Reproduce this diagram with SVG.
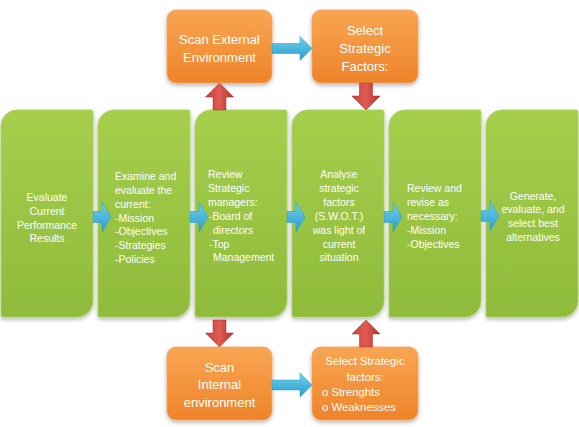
<svg xmlns="http://www.w3.org/2000/svg" xmlns:xlink="http://www.w3.org/1999/xlink" width="579" height="427" viewBox="0 0 579 427">
<style>
.gt{font-family:"Liberation Sans",Arial,sans-serif;font-size:10.5px;fill:#ffffff}
.ot{font-family:"Liberation Sans",Arial,sans-serif;font-size:13px;fill:#ffffff}
.os{font-family:"Liberation Sans",Arial,sans-serif;font-size:11.3px;fill:#ffffff}
.c{text-anchor:middle}
.gbox{fill:url(#gg);stroke:#a9d35a;stroke-width:0.8;filter:url(#sh)}
.obox{fill:url(#og);stroke:#f4a462;stroke-width:0.8;filter:url(#sh)}
.ba{fill:url(#bg);stroke:#2b9ac4;stroke-width:0.5}
.ra{fill:url(#rg);stroke:#a52a28;stroke-width:0.5}
</style>
<defs>
<linearGradient id="gg" x1="0" y1="0" x2="0" y2="1">
<stop offset="0" stop-color="#a5cf4c"/>
<stop offset="1" stop-color="#8fbb3b"/>
</linearGradient>
<linearGradient id="og" x1="0" y1="0" x2="0" y2="1">
<stop offset="0" stop-color="#f9a552"/>
<stop offset="1" stop-color="#ee8429"/>
</linearGradient>
<linearGradient id="bg" x1="0" y1="0" x2="0" y2="1">
<stop offset="0" stop-color="#6fd1ee"/>
<stop offset="1" stop-color="#2a9ccc"/>
</linearGradient>
<linearGradient id="rg" x1="0" y1="0" x2="1" y2="0">
<stop offset="0" stop-color="#c9403c"/>
<stop offset="0.5" stop-color="#e05a52"/>
<stop offset="1" stop-color="#b3312e"/>
</linearGradient>
<filter id="sh" x="-10%" y="-10%" width="120%" height="120%">
<feDropShadow dx="0" dy="2" stdDeviation="2" flood-color="#000" flood-opacity="0.3"/>
</filter>
<path id="gshape" d="M16,0 H90 A2,2 0 0 1 92,2 V191 A16,16 0 0 1 76,207 H2 A2,2 0 0 1 0,205 V16 A16,16 0 0 1 16,0 Z"/>
<path id="harrow" d="M0,-5.5 H9 V-15 L18,0 L9,15 V5.5 H0 Z"/>
<path id="larrow" d="M0,-5 H28 V-12 L40,0 L28,12 V5 H0 Z"/>
<path id="uparrow" d="M0,0 L14,14 H6.5 V27 H-6.5 V14 H-14 Z"/>
<path id="dnarrow" d="M0,0 L-14,-14 H-6.5 V-27 H6.5 V-14 H14 Z"/>
</defs>
<rect width="579" height="427" fill="#ffffff"/>

<g id="n1">
<use xlink:href="#gshape" href="#gshape" x="1" y="110" class="gbox"/>
<text class="gt c" x="47" y="200.5">Evaluate</text>
<text class="gt c" x="47" y="214.5">Current</text>
<text class="gt c" x="47" y="228.5">Performance</text>
<text class="gt c" x="47" y="242">Results</text>
</g>
<g id="n2">
<use xlink:href="#gshape" href="#gshape" x="98" y="110" class="gbox"/>
<text class="gt" x="115" y="180">Examine and</text>
<text class="gt" x="115" y="194">evaluate the</text>
<text class="gt" x="115" y="208">current:</text>
<text class="gt" x="115" y="221.5">-Mission</text>
<text class="gt" x="115" y="235">-Objectives</text>
<text class="gt" x="115" y="249">-Strategies</text>
<text class="gt" x="115" y="263">-Policies</text>
</g>
<g id="n3">
<use xlink:href="#gshape" href="#gshape" x="195" y="110" class="gbox"/>
<text class="gt" x="208" y="178">Review</text>
<text class="gt" x="208" y="192">Strategic</text>
<text class="gt" x="208" y="206">managers:</text>
<text class="gt" x="209" y="220">-Board of</text>
<text class="gt" x="213" y="233.5">directors</text>
<text class="gt" x="209" y="247.5">-Top</text>
<text class="gt" x="213" y="261">Management</text>
</g>
<g id="n4">
<use xlink:href="#gshape" href="#gshape" x="292" y="110" class="gbox"/>
<text class="gt c" x="339" y="178">Analyse</text>
<text class="gt c" x="339" y="192">strategic</text>
<text class="gt c" x="339" y="205.5">factors</text>
<text class="gt c" x="339" y="220">(S.W.O.T.)</text>
<text class="gt c" x="339" y="234">was light of</text>
<text class="gt c" x="339" y="248">current</text>
<text class="gt c" x="339" y="261">situation</text>
</g>
<g id="n5">
<use xlink:href="#gshape" href="#gshape" x="389" y="110" class="gbox"/>
<text class="gt" x="407" y="192">Review and</text>
<text class="gt" x="407" y="206">revise as</text>
<text class="gt" x="407" y="220">necessary:</text>
<text class="gt" x="407" y="233.5">-Mission</text>
<text class="gt" x="407" y="247.5">-Objectives</text>
</g>
<g id="n6">
<use xlink:href="#gshape" href="#gshape" x="486" y="110" class="gbox"/>
<text class="gt c" x="533" y="199.5">Generate,</text>
<text class="gt c" x="533" y="213">evaluate, and</text>
<text class="gt c" x="533" y="226.5">select best</text>
<text class="gt c" x="533" y="240.5">alternatives</text>
</g>

<g id="o1">
<rect x="167" y="10" width="105" height="73" rx="9" class="obox"/>
<text class="ot c" x="219.5" y="43.5">Scan External</text>
<text class="ot c" x="219.5" y="61.5">Environment</text>
</g>
<g id="o2">
<rect x="312" y="10" width="106" height="73" rx="9" class="obox"/>
<text class="ot c" x="365" y="34.5">Select</text>
<text class="ot c" x="365" y="52.5">Strategic</text>
<text class="ot c" x="365" y="70.5">Factors:</text>
</g>
<g id="o3">
<rect x="167" y="347" width="105" height="73" rx="9" class="obox"/>
<text class="ot c" x="219.5" y="371.5">Scan</text>
<text class="ot c" x="219.5" y="389">Internal</text>
<text class="ot c" x="219.5" y="406.5">environment</text>
</g>
<g id="o4">
<rect x="312" y="347" width="106" height="73" rx="9" class="obox"/>
<text class="os c" x="365" y="365">Select Strategic</text>
<text class="os c" x="365" y="381">factors:</text>
<text class="os" x="322" y="396">o Strenghts</text>
<text class="os" x="322" y="411">o Weaknesses</text>
</g>

<g id="connectors">
<use xlink:href="#harrow" href="#harrow" x="93" y="217" class="ba"/>
<use xlink:href="#harrow" href="#harrow" x="190" y="217" class="ba"/>
<use xlink:href="#harrow" href="#harrow" x="287" y="217" class="ba"/>
<use xlink:href="#harrow" href="#harrow" x="384" y="217" class="ba"/>
<use xlink:href="#harrow" href="#harrow" x="481" y="216" class="ba"/>
<use xlink:href="#larrow" href="#larrow" x="272" y="48.5" class="ba"/>
<use xlink:href="#larrow" href="#larrow" x="272" y="385" class="ba"/>
<use xlink:href="#uparrow" href="#uparrow" x="219.5" y="83" class="ra"/>
<use xlink:href="#dnarrow" href="#dnarrow" x="366" y="110" class="ra"/>
<use xlink:href="#dnarrow" href="#dnarrow" x="219.5" y="347" class="ra"/>
<use xlink:href="#uparrow" href="#uparrow" x="366" y="320" class="ra"/>
</g>
</svg>
